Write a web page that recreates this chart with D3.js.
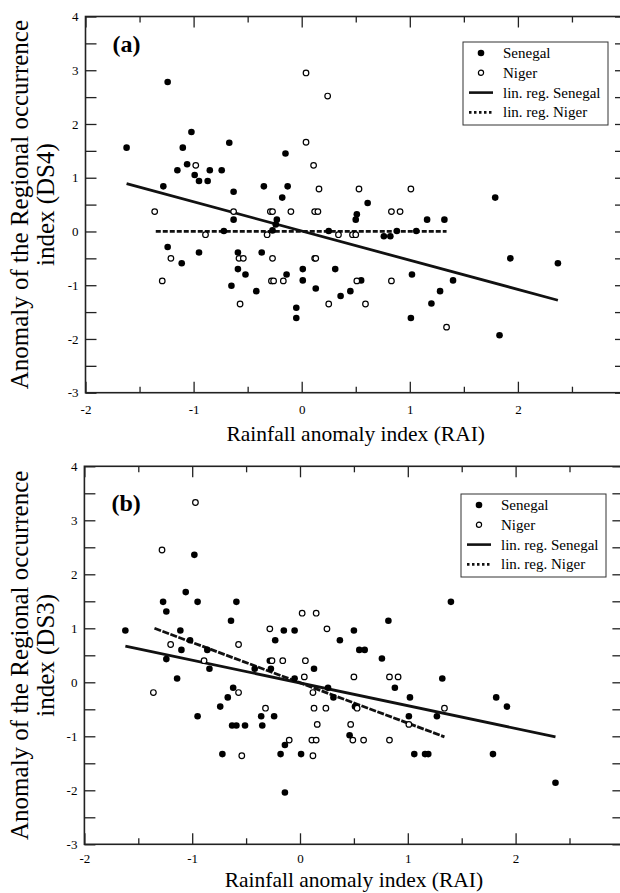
<!DOCTYPE html>
<html lang="en">
<head>
  <meta charset="utf-8">
  <title>RAI vs regional occurrence index</title>
  <style>
    body { margin: 0; background: #fff; }
    text { font-family: "Liberation Serif", "Times New Roman", serif; fill: #000; }
  </style>
</head>
<body>
  <script src="https://d3js.org/d3.v7.min.js" charset="utf-8"></script>

  <script>

      // ---- data ----
      var xTickLabels = [-2, -1, 0, 1, 2];
      var yTickLabels = [4, 3, 2, 1, 0, -1, -2, -3];
      var legendNames = ["Senegal", "Niger", "lin. reg. Senegal", "lin. reg. Niger"];

      // panel (a): DS4
      var senegalA = [
        [-1.62,1.56],[-1.24,2.78],[-1.02,1.85],[-1.10,1.56],[-1.06,1.25],[-1.15,1.14],[-0.99,1.05],
        [-0.95,0.94],[-0.87,0.94],[-0.85,1.14],[-0.74,1.14],[-0.67,1.65],[-1.28,0.84],[-0.63,0.74],
        [-0.35,0.84],[-0.15,1.45],[-0.13,0.84],[-0.18,0.63],[0.61,0.53],[1.79,0.63],
        [-0.63,0.22],[-0.23,0.22],[-0.24,0.13],[-0.27,0.02],[-0.72,0.01],[0.25,0.01],[-1.24,-0.29],
        [-1.11,-0.59],[-0.95,-0.39],[-0.59,-0.39],[-0.37,-0.39],[-0.59,-0.70],[-0.52,-0.80],
        [-0.65,-1.01],[-0.42,-1.11],[-0.14,-0.80],[0.01,-0.70],[0.01,-0.91],[0.13,-1.06],[0.31,-0.70],
        [0.36,-1.20],[-0.05,-1.42],[-0.05,-1.61],
        [0.51,0.32],[0.50,0.22],[1.16,0.22],[1.32,0.22],[0.76,-0.09],[0.82,-0.09],[0.88,0.01],
        [1.06,0.01],[0.55,-0.91],[1.02,-0.80],[1.40,-0.91],[1.93,-0.50],[2.37,-0.59],[0.45,-1.11],
        [1.28,-1.11],[1.20,-1.34],[1.01,-1.61],[1.83,-1.93]
      ];
      var nigerA = [
        [-0.98,1.23],[0.04,2.95],[0.24,2.52],[0.04,1.66],[0.11,1.23],[0.16,0.79],[0.53,0.79],[1.01,0.79],
        [-1.36,0.37],[-0.63,0.37],[-0.29,0.37],[-0.27,0.37],[-0.10,0.37],[0.12,0.37],[0.15,0.37],
        [-0.89,-0.06],[-0.32,-0.06],[0.34,-0.06],[-1.21,-0.50],[-0.58,-0.50],[-0.54,-0.50],[-0.27,-0.50],
        [0.12,-0.50],[0.13,-0.50],[-1.29,-0.92],[-0.28,-0.92],[-0.26,-0.92],[-0.17,-0.92],[-0.57,-1.35],
        [0.25,-1.35],[0.83,0.37],[0.91,0.37],[0.47,-0.06],[0.50,-0.06],[0.51,-0.92],[0.83,-0.92],
        [0.59,-1.35],[1.34,-1.78]
      ];
      var regSenegalA = [[-1.62,0.89],[2.37,-1.28]];
      var regNigerA = [[-1.35,0.0],[1.34,0.0]];

      // panel (b): DS3
      var senegalB = [
        [-1.62,0.96],[-0.98,2.36],[-1.06,1.67],[-1.27,1.49],[-0.95,1.49],[-0.59,1.49],[-1.24,1.31],
        [-0.64,1.14],[-1.11,0.96],[-1.02,0.78],[-1.10,0.60],[-0.86,0.60],[-0.23,0.78],[-0.15,0.96],
        [-0.05,0.96],[0.37,0.78],
        [-1.24,0.43],[-0.84,0.25],[-1.14,0.07],[-0.62,-0.10],[-0.67,-0.28],[-0.74,-0.45],[-0.95,-0.63],
        [-0.63,-0.80],[-0.59,-0.80],[-0.51,-0.80],[-0.72,-1.33],[-0.36,-0.63],[-0.24,-0.63],[-0.35,-0.80],
        [-0.42,0.25],[-0.27,0.25],[-0.28,0.40],[0.13,0.25],[-0.05,0.07],[0.26,-0.10],[0.31,-0.28],
        [-0.14,-1.16],[-0.18,-1.33],[0.01,-1.33],[-0.14,-2.04],
        [1.40,1.49],[0.82,1.14],[0.50,0.96],[0.55,0.60],[0.60,0.60],[0.76,0.44],[1.32,0.07],[0.88,-0.10],
        [1.02,-0.28],[1.82,-0.28],[1.92,-0.45],[0.51,-0.45],[1.01,-0.63],[1.27,-0.63],[0.46,-0.98],
        [1.06,-1.33],[1.16,-1.33],[1.19,-1.33],[1.79,-1.33],[2.37,-1.86]
      ];
      var nigerB = [
        [-1.28,2.45],[-0.97,3.33],[-1.20,0.70],[-0.57,0.70],[-0.28,0.99],[0.02,1.28],[0.15,1.28],[0.25,0.99],
        [-0.89,0.40],[-1.36,-0.19],[-0.57,-0.19],[-0.54,-1.36],[-0.32,-0.48],[-0.26,0.40],[-0.16,0.40],
        [0.05,0.40],[0.04,0.10],[0.12,-0.19],[0.13,-0.48],[0.24,-0.48],[0.16,-0.78],[-0.10,-1.07],
        [0.11,-1.07],[0.15,-1.07],[0.12,-1.36],[0.50,0.10],[0.83,0.10],[0.91,0.10],[0.53,-0.48],
        [1.34,-0.48],[1.01,-0.78],[0.47,-0.78],[0.49,-1.07],[0.59,-1.07],[0.83,-1.07]
      ];
      var regSenegalB = [[-1.62,0.67],[2.37,-1.01]];
      var regNigerB = [[-1.35,1.0],[1.34,-1.01]];

      // ---- drawing ----
      var w = 620;
      var h = 893;

      var svg = d3.select("body").append("svg").attr("width", w).attr("height", h);

      function drawPanel(p) {
        var g = svg.append("g");
        var x = d3.scaleLinear().domain([-2, 3]).range([p.left, p.right]);
        var y = d3.scaleLinear().domain([-3, 4]).range([p.bottom, p.top]);

        var xMajor = d3.range(-2, 3.01, 1);
        var xMinor = d3.range(-1.5, 3, 1);
        var yAll = d3.range(-3, 4.01, 0.5);

        function styleAxis(sel) {
          sel.select(".domain").remove();
          sel.selectAll(".tick line").attr("stroke", "#222").attr("stroke-width", 1.3);
          sel.selectAll(".tick text").style("font-family", "Liberation Serif").style("font-size", "13px");
        }

        // bottom
        g.append("g").attr("transform", "translate(0," + p.bottom + ")")
          .call(d3.axisBottom(x).tickValues(xMajor).tickSize(-11).tickPadding(p.xPad)
            .tickFormat(function(d){ return xTickLabels.indexOf(d) >= 0 ? String(d) : ""; }))
          .call(styleAxis);
        g.append("g").attr("transform", "translate(0," + p.bottom + ")")
          .call(d3.axisBottom(x).tickValues(xMinor).tickSize(-6).tickFormat(""))
          .call(styleAxis);
        // top
        g.append("g").attr("transform", "translate(0," + p.top + ")")
          .call(d3.axisTop(x).tickValues(xMajor).tickSize(-11).tickFormat(""))
          .call(styleAxis);
        g.append("g").attr("transform", "translate(0," + p.top + ")")
          .call(d3.axisTop(x).tickValues(xMinor).tickSize(-6).tickFormat(""))
          .call(styleAxis);
        // left
        g.append("g").attr("transform", "translate(" + p.left + ",0)")
          .call(d3.axisLeft(y).tickValues(yAll).tickSize(-11).tickPadding(7)
            .tickFormat(function(d){ return yTickLabels.indexOf(d) >= 0 ? String(d) : ""; }))
          .call(styleAxis);
        // right
        g.append("g").attr("transform", "translate(" + p.right + ",0)")
          .call(d3.axisRight(y).tickValues(yAll).tickSize(-11).tickFormat(""))
          .call(styleAxis);

        // frame
        g.append("rect")
          .attr("x", x(-2)).attr("y", y(4))
          .attr("width", x(3) - x(-2)).attr("height", y(-3) - y(4))
          .attr("fill", "none").attr("stroke", "#222").attr("stroke-width", 1.6);

        // regression lines
        var line = d3.line().x(function(d){ return x(d[0]); }).y(function(d){ return y(d[1]); });
        g.append("path").datum(p.regS).attr("d", line)
          .attr("fill", "none").attr("stroke", "#111").attr("stroke-width", 2.8);
        g.append("path").datum(p.regN).attr("d", line)
          .attr("fill", "none").attr("stroke", "#111").attr("stroke-width", 2.8)
          .attr("stroke-dasharray", p.nigerDash);

        // points
        g.selectAll("circle.sen").data(p.senegal).enter().append("circle")
          .attr("class", "sen")
          .attr("cx", function(d){ return x(d[0]); })
          .attr("cy", function(d){ return y(d[1]); })
          .attr("r", 3.3).attr("fill", "#000");
        g.selectAll("circle.nig").data(p.niger).enter().append("circle")
          .attr("class", "nig")
          .attr("cx", function(d){ return x(d[0]); })
          .attr("cy", function(d){ return y(d[1]); })
          .attr("r", 2.8).attr("fill", "#fff").attr("stroke", "#000").attr("stroke-width", 1.2);

        // panel label
        g.append("text").attr("x", p.left + 27).attr("y", p.labelY)
          .style("font-size", "24px").style("font-weight", "bold").text(p.label);

        // legend
        var lg = g.append("g").attr("transform", "translate(" + p.legX + "," + p.legY + ")");
        lg.append("rect").attr("x", 0).attr("y", 0).attr("width", 145).attr("height", 83)
          .attr("fill", "#fff").attr("stroke", "#333").attr("stroke-width", 1);
        var rows = lg.selectAll("g.row").data(legendNames).enter().append("g")
          .attr("class", "row")
          .attr("transform", function(d, i){ return "translate(0," + (11 + i * 19.8) + ")"; });
        rows.append("text").attr("x", 40).attr("y", 5).style("font-size", "15px")
          .text(function(d){ return d; });
        rows.filter(function(d, i){ return i === 0; }).append("circle")
          .attr("cx", 18).attr("cy", 0).attr("r", 3.3).attr("fill", "#000");
        rows.filter(function(d, i){ return i === 1; }).append("circle")
          .attr("cx", 18).attr("cy", 0).attr("r", 2.6).attr("fill", "#fff")
          .attr("stroke", "#000").attr("stroke-width", 1.2);
        rows.filter(function(d, i){ return i === 2; }).append("line")
          .attr("x1", 6).attr("x2", 30).attr("y1", 0).attr("y2", 0)
          .attr("stroke", "#111").attr("stroke-width", 2.6);
        rows.filter(function(d, i){ return i === 3; }).append("line")
          .attr("x1", 6).attr("x2", 30).attr("y1", 0).attr("y2", 0)
          .attr("stroke", "#111").attr("stroke-width", 2.6).attr("stroke-dasharray", "2.5,2.5");

        // axis titles
        var xc = (x(-2) + x(3)) / 2;
        g.append("text").attr("x", xc).attr("y", p.titleY).attr("text-anchor", "middle")
          .style("font-size", "21.5px").text("Rainfall anomaly index (RAI)");
        var yc = (p.top + p.bottom) / 2;
        g.append("text").attr("transform", "translate(28," + yc + ") rotate(-90)")
          .attr("text-anchor", "middle").style("font-size", "25px")
          .text("Anomaly of the Regional occurrence");
        g.append("text").attr("transform", "translate(54," + yc + ") rotate(-90)")
          .attr("text-anchor", "middle").style("font-size", "25px")
          .text(p.yIndex);
      }

      drawPanel({
        left: 85.5, right: 626, top: 16.5, bottom: 392.7,
        senegal: senegalA, niger: nigerA, regS: regSenegalA, regN: regNigerA,
        label: "(a)", labelY: 52, legX: 463, legY: 42, xPad: 12, titleY: 441,
        yIndex: "index (DS4)", nigerDash: "5,2"
      });

      drawPanel({
        left: 84.4, right: 623.4, top: 466.3, bottom: 844.3,
        senegal: senegalB, niger: nigerB, regS: regSenegalB, regN: regNigerB,
        label: "(b)", labelY: 511, legX: 461, legY: 494, xPad: 9, titleY: 887,
        yIndex: "index (DS3)", nigerDash: "7,1.5"
      });

  </script>
</body>
</html>
